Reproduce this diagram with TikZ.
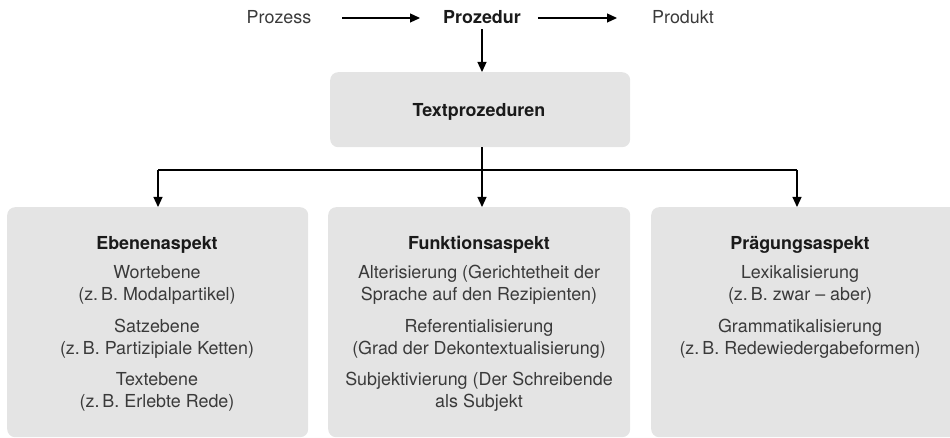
\documentclass[tikz,border=0pt]{standalone}
\usepackage{fontspec}
\setmainfont{TeX Gyre Heros}
\usetikzlibrary{arrows.meta}
\definecolor{boxgray}{HTML}{E4E4E4}
\definecolor{bodytext}{HTML}{3A3A3A}
\definecolor{headtext}{HTML}{1A1A1A}
\newcommand{\diafont}{\fontsize{17.9}{22}\selectfont}
\begin{document}
\begin{tikzpicture}[x=1pt,y=-1pt,
  panel/.style={fill=boxgray, rounded corners=8pt, inner sep=0pt, anchor=north west},
  toptext/.style={font=\diafont, text=bodytext, inner sep=0pt,
    text height=12pt, text depth=0pt, anchor=base},
  head/.style={font=\diafont\bfseries, text=headtext, inner sep=0pt, anchor=base},
  line/.style={font=\diafont, text=bodytext, inner sep=0pt, anchor=base},
  arr/.style={line width=1.2pt, -{Triangle[length=10pt,width=9pt]}},
  conn/.style={line width=1.2pt}]
\path[use as bounding box] (0,0) rectangle (950,438);
\clip (0,0) rectangle (950,438);

% top row: process -> procedure -> product
\node[toptext] (prozess) at (279,24) {Prozess};
\node[toptext, font=\diafont\bfseries, text=headtext] (prozedur) at (482,24) {Prozedur};
\node[toptext] (produkt) at (683,24) {Produkt};
\draw[arr, shorten <=31pt, shorten >=23pt] (prozess) -- (prozedur);
\draw[arr, shorten <=17pt, shorten >=35pt] (prozedur) -- (produkt);

% central box
\node[panel, minimum width=300pt, minimum height=75pt] (tp) at (330,72) {};
\node[head] (tptext) at (479,117) {Textprozeduren};
\draw[arr, shorten <=5pt] (prozedur.south) -- (tp.north -| prozedur.south);

% three aspect panels
\node[panel, minimum width=301pt, minimum height=230pt] (left) at (7,207) {};
\node[panel, minimum width=302pt, minimum height=230pt] (mid) at (328,207) {};
\node[panel, minimum width=310pt, minimum height=230pt] (right) at (651,207) {};

% branching connectors
\coordinate (j) at (482,170);
\coordinate (bl) at (158,170);
\coordinate (br) at (797,170);
\draw[conn] (tp.south -| j) -- (j);
\draw[conn] (bl) -- (br);
\draw[arr] (bl) -- (bl |- left.north);
\draw[arr] (j) -- (j |- mid.north);
\draw[arr] (br) -- (br |- right.north);

% left panel text
\node[head] (lh) at (157,250) {Ebenenaspekt};
\node[line] (l1) at (157,279) {Wortebene};
\node[line] (l2) at (157,301) {(z.\,B. Modalpartikel)};
\node[line] (l3) at (157,332) {Satzebene};
\node[line] (l4) at (157,354) {(z.\,B. Partizipiale Ketten)};
\node[line] (l5) at (157,385) {Textebene};
\node[line] (l6) at (157,407) {(z.\,B. Erlebte Rede)};

% middle panel text
\node[head] (mh) at (479,250) {Funktionsaspekt};
\node[line] (m1) at (479,279) {Alterisierung (Gerichtetheit der};
\node[line] (m2) at (479,301) {Sprache auf den Rezipienten)};
\node[line] (m3) at (479,332) {Referentialisierung};
\node[line] (m4) at (479,354) {(Grad der Dekontextualisierung)};
\node[line] (m5) at (479,385) {Subjektivierung (Der Schreibende};
\node[line] (m6) at (479,407) {als Subjekt};

% right panel text
\node[head] (rh) at (800,250) {Prägungsaspekt};
\node[line] (r1) at (800,279) {Lexikalisierung};
\node[line] (r2) at (800,301) {(z.\,B. zwar – aber)};
\node[line] (r3) at (800,332) {Grammatikalisierung};
\node[line] (r4) at (800,354) {(z.\,B. Redewiedergabeformen)};
\end{tikzpicture}
\end{document}
